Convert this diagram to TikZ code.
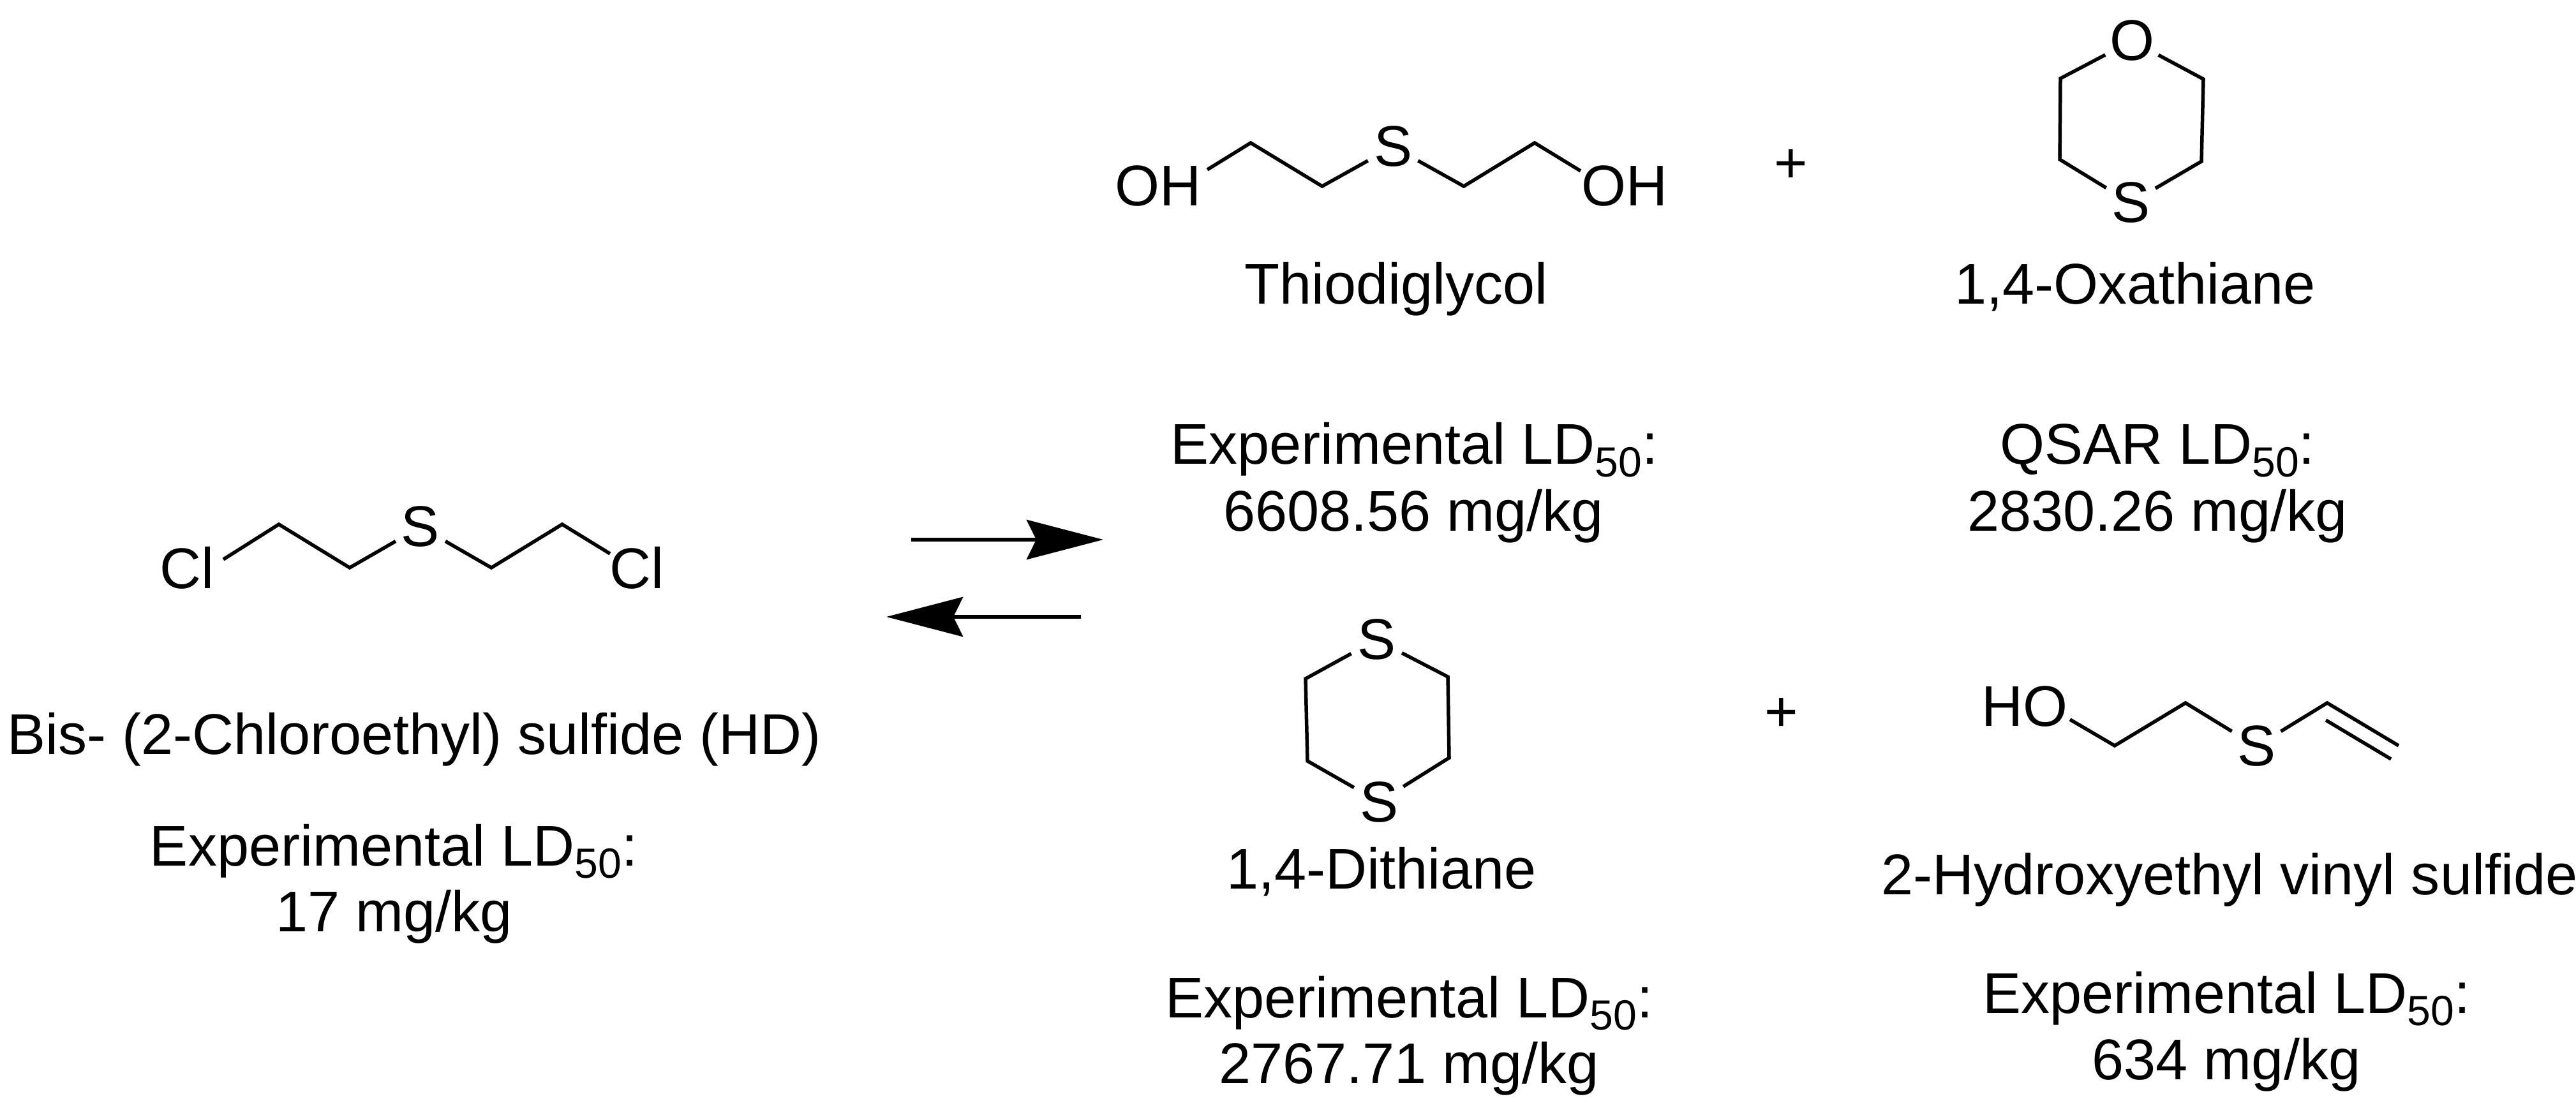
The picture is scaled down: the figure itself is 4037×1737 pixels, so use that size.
\documentclass[tikz,border=0pt]{standalone}
\usepackage{fontspec}
\setmainfont{Liberation Sans}
\usetikzlibrary{arrows.meta}
\newcommand{\LDlabel}{LD\raisebox{-.19cm}{\fontsize{18.8pt}{20pt}\selectfont 50}:}
\tikzset{
  txt/.style={inner sep=0pt, outer sep=0pt, anchor=base, font=\fontsize{25.6pt}{30pt}\selectfont},
  atom/.style={circle, inner sep=0pt, outer sep=0pt, minimum size=.9cm, font=\fontsize{25.6pt}{30pt}\selectfont},
  group/.style={inner sep=0pt, outer sep=0pt, font=\fontsize{25.6pt}{30pt}\selectfont},
  bond/.style={line width=.055cm},
  eqarrow/.style={line width=.06cm, -{Stealth[length=1.2cm, width=.62cm, inset=.15cm]}}
}
\begin{document}
\begin{tikzpicture}[x=.01cm, y=-.01cm]
\useasboundingbox (0,0) rectangle (4037,1737);

% mustard
\node(ClA)[group] at (293,890) {Cl};
\node(ClB)[group] at (998,890) {Cl};
\node(SHD)[atom] at (659,826) {S};
\coordinate(ClAb) at (350,877);
\coordinate(ClBb) at (956,868);
\coordinate(HDa) at (437,822);
\coordinate(HDb) at (548,890);
\coordinate(HDc) at (770,890);
\coordinate(HDd) at (881,822);
\draw[bond] (ClAb) -- (HDa) -- (HDb) -- (SHD);
\draw[bond] (SHD) -- (HDc) -- (HDd) -- (ClBb);
\node(HDname)[txt] at (649,1182) {Bis- (2-Chloroethyl) sulfide (HD)};
\node(HDtox)[txt] at (617,1357) {Experimental \LDlabel};
\node(HDval)[txt] at (618,1460) {17 mg/kg};

% equilibrium
\coordinate(FwdA) at (1428,846);
\coordinate(FwdB) at (1729,846);
\coordinate(RevA) at (1694,967);
\coordinate(RevB) at (1389,967);
\draw[eqarrow] (FwdA) -- (FwdB);
\draw[eqarrow] (RevA) -- (RevB);

% thiodiglycol
\node(OHa)[group] at (1815,292) {OH};
\node(OHb)[group] at (2546,292) {OH};
\node(STG)[atom] at (2183,230) {S};
\coordinate(OHab) at (1892,266);
\coordinate(OHbb) at (2477,268);
\coordinate(TGa) at (1960,224);
\coordinate(TGb) at (2072,292);
\coordinate(TGc) at (2294,292);
\coordinate(TGd) at (2405,224);
\draw[bond] (OHab) -- (TGa) -- (TGb) -- (STG);
\draw[bond] (STG) -- (TGc) -- (TGd) -- (OHbb);
\node(TGname)[txt] at (2188,477) {Thiodiglycol};
\node(TGtox)[txt] at (2216,728) {Experimental \LDlabel};
\node(TGval)[txt] at (2215,832) {6608.56 mg/kg};

\node(PlusA)[group] at (2807,261) {+};

% oxathiane
\node(OOX)[atom] at (3341,64) {O};
\node(SOX)[atom] at (3339,318) {S};
\coordinate(OXa) at (3229,123);
\coordinate(OXb) at (3228,250);
\coordinate(OXc) at (3453,124);
\coordinate(OXd) at (3450,253);
\draw[bond] (OOX) -- (OXa) -- (OXb) -- (SOX);
\draw[bond] (OOX) -- (OXc) -- (OXd) -- (SOX);
\node(OXname)[txt] at (3346,477) {1,4-Oxathiane};
\node(OXtox)[txt] at (3381,728) {QSAR \LDlabel};
\node(OXval)[txt] at (3381,832) {2830.26 mg/kg};

% dithiane
\node(SDa)[atom] at (2157,1003) {S};
\node(SDb)[atom] at (2161,1257) {S};
\coordinate(DTa) at (2046,1064);
\coordinate(DTb) at (2049,1193);
\coordinate(DTc) at (2269,1061);
\coordinate(DTd) at (2271,1188);
\draw[bond] (SDa) -- (DTa) -- (DTb) -- (SDb);
\draw[bond] (SDa) -- (DTc) -- (DTd) -- (SDb);
\node(DTname)[txt] at (2165,1393) {1,4-Dithiane};
\node(DTtox)[txt] at (2208,1595) {Experimental \LDlabel};
\node(DTval)[txt] at (2208,1698) {2767.71 mg/kg};

\node(PlusB)[group] at (2792,1121) {+};

% vinyl sulfide
\node(HOV)[group] at (3173,1108) {HO};
\node(SVS)[atom] at (3536,1170) {S};
\coordinate(HOVb) at (3244,1128);
\coordinate(VSa) at (3314,1169);
\coordinate(VSb) at (3425,1102);
\coordinate(VSc) at (3647,1102);
\coordinate(VSd) at (3759,1169);
\coordinate(VSe) at (3645,1129);
\coordinate(VSf) at (3747,1190);
\draw[bond] (HOVb) -- (VSa) -- (VSb) -- (SVS);
\draw[bond] (SVS) -- (VSc) -- (VSd);
\draw[bond] (VSe) -- (VSf);
\node(VSname)[txt] at (3494,1402) {2-Hydroxyethyl vinyl sulfide};
\node(VStox)[txt] at (3489,1588) {Experimental \LDlabel};
\node(VSval)[txt] at (3489,1692) {634 mg/kg};
\end{tikzpicture}
\end{document}
